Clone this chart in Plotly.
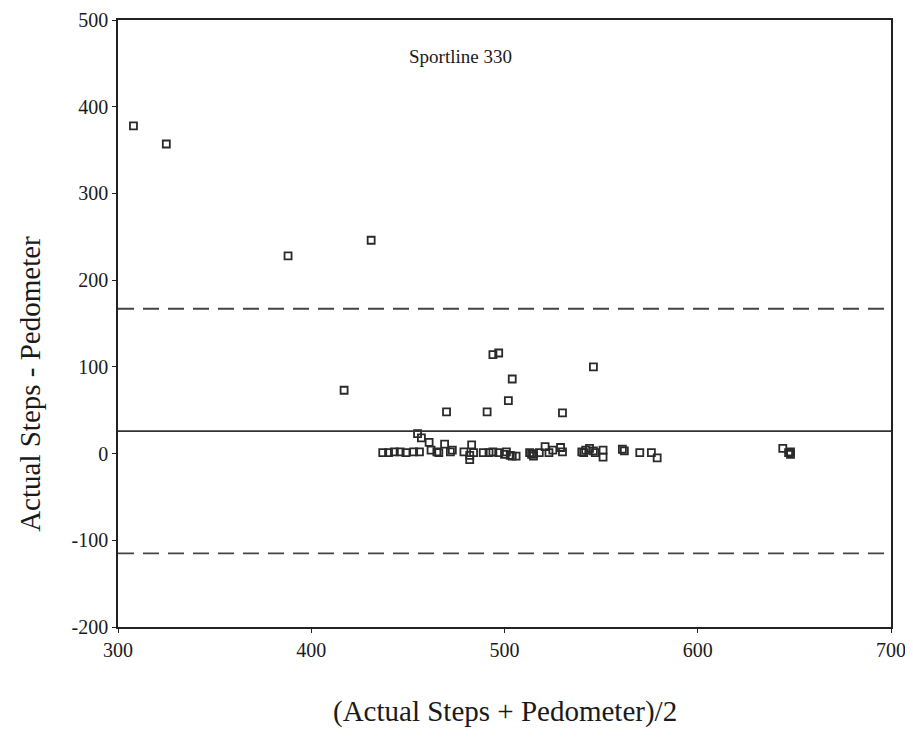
import plotly.graph_objects as go

mean_x = [308, 325, 388, 431, 417, 470, 491, 494, 497, 504, 502, 530, 546,
          437, 440, 443, 446, 449, 453, 455, 456, 457, 461, 462, 465, 466, 469,
          472, 473, 479, 482, 482, 483, 484, 489, 492, 494, 497, 500, 501, 503,
          504, 506, 513, 514, 515, 515, 518, 521, 523, 525, 529, 530, 540, 541,
          542, 544, 546, 547, 551, 551, 561, 562, 570, 576, 579, 644, 647, 648, 648]
diff_y = [378, 357, 228, 246, 73, 48, 48, 114, 116, 86, 61, 47, 100,
          1, 1, 2, 2, 1, 2, 23, 2, 18, 13, 4, 2, 1, 11,
          2, 4, 2, -2, -7, 10, 1, 1, 1, 2, 1, -1, 2, -2,
          -3, -3, 1, -1, 0, -3, 1, 8, 1, 4, 7, 2, 2, 1,
          4, 6, 3, 1, 4, -4, 5, 3, 1, 1, -5, 6, 1, -1, 2]

mean_diff = 26
upper_loa = 167
lower_loa = -115

x_ticks = [300, 400, 500, 600, 700]
y_ticks = [-200, -100, 0, 100, 200, 300, 400, 500]

font_family = "Liberation Serif"
ink = "#1a1a1a"

fig = go.Figure()
fig.add_trace(go.Scatter(
    x=mean_x, y=diff_y, mode="markers",
    marker=dict(symbol="square-open", size=7, color="#2a2a2a",
                line=dict(width=1.8, color="#2a2a2a")),
    showlegend=False, hoverinfo="x+y"))

fig.add_hline(y=mean_diff, line=dict(color="#333333", width=1.8))
fig.add_hline(y=upper_loa, line=dict(color="#444444", width=1.8, dash="16px,9px"))
fig.add_hline(y=lower_loa, line=dict(color="#444444", width=1.8, dash="16px,9px"))

fig.add_annotation(x=477, y=458, text="Sportline 330", showarrow=False,
                   font=dict(family=font_family, size=19, color=ink))

# axis titles as annotations for precise placement
fig.add_annotation(xref="paper", yref="paper", x=0.5, y=-0.139, yanchor="middle",
                   text="(Actual Steps + Pedometer)/2", showarrow=False,
                   font=dict(family=font_family, size=29, color=ink))
fig.add_annotation(xref="paper", yref="paper", x=-0.113, y=0.40, xanchor="center",
                   yanchor="middle", textangle=-90,
                   text="Actual Steps - Pedometer", showarrow=False,
                   font=dict(family=font_family, size=29, color=ink))

axis_common = dict(showgrid=False, zeroline=False, showline=True, linecolor="#222222",
                   linewidth=1.6, mirror=True, ticks="outside", ticklen=4,
                   tickcolor="#222222", tickwidth=1, automargin=False,
                   ticklabeloverflow="allow",
                   tickfont=dict(family=font_family, size=20, color=ink))

fig.update_xaxes(range=[300, 700], tickvals=x_ticks, ticktext=[str(v) for v in x_ticks],
                 **axis_common)
fig.update_yaxes(range=[-200, 500], tickvals=y_ticks, ticktext=[str(v) for v in y_ticks],
                 **axis_common)

fig.update_layout(width=905, height=732, margin=dict(l=110, r=22, t=12, b=113),
                  plot_bgcolor="white", paper_bgcolor="white")

fig.write_html("out.html")
